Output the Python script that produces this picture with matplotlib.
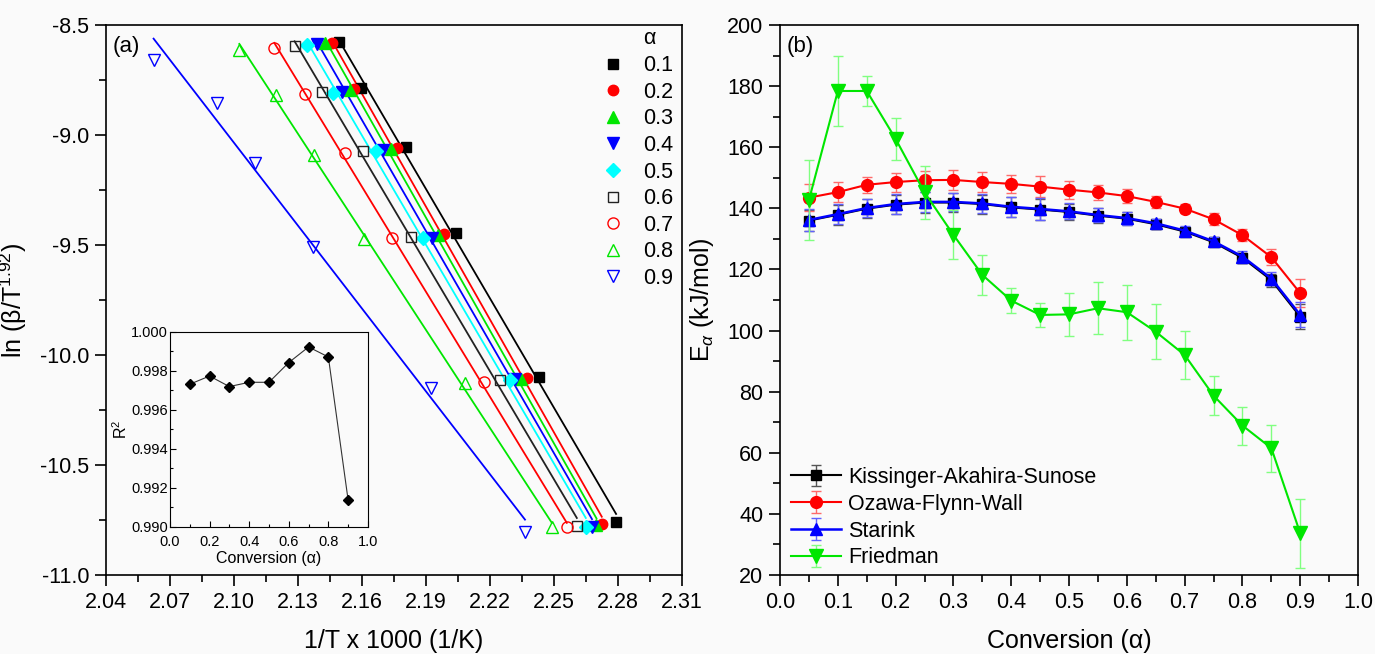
import numpy as np
import matplotlib
matplotlib.use("Agg")
import matplotlib.pyplot as plt
from matplotlib.ticker import MultipleLocator, FormatStrFormatter

plt.rcParams['font.family'] = ['Liberation Sans', 'DejaVu Sans']
plt.rcParams['mathtext.fontset'] = 'custom'
plt.rcParams['mathtext.rm'] = 'Liberation Sans'
plt.rcParams['mathtext.it'] = 'Liberation Sans:italic'
plt.rcParams['axes.unicode_minus'] = False

# ---- panel (a): iso-conversional plots, one row per conversion level ----
alphas = [0.1, 0.2, 0.3, 0.4, 0.5, 0.6, 0.7, 0.8, 0.9]
inv_T = [
    [2.1490, 2.1594, 2.1806, 2.2041, 2.2431, 2.2791],
    [2.1457, 2.1564, 2.1766, 2.1984, 2.2373, 2.2724],
    [2.1427, 2.1544, 2.1736, 2.1954, 2.2344, 2.2699],
    [2.1388, 2.1505, 2.1699, 2.1928, 2.2319, 2.2678],
    [2.1342, 2.1464, 2.1664, 2.1887, 2.2294, 2.2649],
    [2.1284, 2.1413, 2.1606, 2.1832, 2.2247, 2.2607],
    [2.1189, 2.1335, 2.1519, 2.1741, 2.2171, 2.2560],
    [2.1025, 2.1197, 2.1373, 2.1611, 2.2083, 2.2490],
    [2.0623, 2.0921, 2.1097, 2.1370, 2.1925, 2.2364],
]
ln_beta = [
    [-8.576, -8.788, -9.053, -9.444, -10.100, -10.761],
    [-8.580, -8.790, -9.060, -9.452, -10.105, -10.770],
    [-8.582, -8.795, -9.062, -9.455, -10.107, -10.774],
    [-8.588, -8.805, -9.069, -9.466, -10.110, -10.781],
    [-8.592, -8.807, -9.074, -9.466, -10.112, -10.781],
    [-8.594, -8.805, -9.073, -9.462, -10.114, -10.777],
    [-8.603, -8.812, -9.083, -9.468, -10.121, -10.782],
    [-8.614, -8.818, -9.091, -9.474, -10.129, -10.783],
    [-8.659, -8.856, -9.126, -9.508, -10.149, -10.803],
]

# inset: R^2 of the linear fits
r2_conv = [0.1, 0.2, 0.3, 0.4, 0.5, 0.6, 0.7, 0.8, 0.9]
r2_vals = [0.99732, 0.99774, 0.99720, 0.99742, 0.99742, 0.99843, 0.99923, 0.99872, 0.99137]

# ---- panel (b): activation energy vs conversion ----
conv = [0.05, 0.10, 0.15, 0.20, 0.25, 0.30, 0.35, 0.40, 0.45,
        0.50, 0.55, 0.60, 0.65, 0.70, 0.75, 0.80, 0.85, 0.90]
E_kas = [136.0, 137.9, 139.9, 141.2, 141.9, 141.9, 141.4, 140.3, 139.6,
         138.8, 137.6, 136.6, 134.8, 132.4, 128.9, 123.8, 116.5, 104.5]
E_kas_err = [3.5, 3.3, 3.1, 3.2, 3.3, 3.0, 3.1, 3.3, 3.5,
             2.6, 2.4, 2.1, 1.5, 1.5, 1.3, 1.7, 2.1, 4.1]
E_ofw = [143.5, 145.3, 147.7, 148.6, 149.2, 149.3, 148.6, 148.0, 147.1,
         146.1, 145.2, 144.0, 142.1, 139.9, 136.4, 131.2, 124.0, 112.2]
E_ofw_err = [4.5, 3.2, 2.6, 3.1, 3.0, 3.2, 3.4, 2.9, 3.4,
             2.9, 2.5, 2.4, 2.0, 1.4, 2.0, 1.9, 2.6, 4.6]
E_star = [136.2, 138.1, 140.1, 141.4, 142.1, 142.1, 141.6, 140.5, 139.8,
          139.0, 137.8, 136.8, 135.1, 132.7, 129.2, 124.2, 117.0, 105.1]
E_star_err = [3.5, 3.3, 3.1, 3.2, 3.3, 3.0, 3.1, 3.3, 3.5,
              2.6, 2.4, 2.1, 1.5, 1.5, 1.3, 1.7, 2.1, 4.1]
E_fr = [142.7, 178.4, 178.4, 162.7, 145.2, 131.3, 118.2, 109.8, 105.1,
        105.3, 107.3, 106.0, 99.6, 92.0, 78.7, 68.9, 61.5, 33.6]
E_fr_err = [13.2, 11.4, 5.0, 7.0, 8.7, 8.0, 6.5, 4.0, 4.0,
            7.0, 8.5, 9.0, 9.0, 8.0, 6.5, 6.2, 7.7, 11.4]

GREEN = '#00e600'
BG = '#fafafa'
TICK_FS = 15.5
LABEL_FS = 18

fig = plt.figure(figsize=(13.75, 6.54), dpi=100)
fig.patch.set_facecolor(BG)
ax_a = fig.add_axes([0.0771, 0.1208, 0.4189, 0.8410])
ax_b = fig.add_axes([0.5673, 0.1208, 0.4204, 0.8410])


def style_axes(ax):
    ax.set_facecolor(BG)
    for s in ax.spines.values():
        s.set_linewidth(1.2)
    ax.tick_params(which='both', direction='out', width=1.2, labelsize=TICK_FS, pad=4)
    ax.tick_params(which='major', length=8)
    ax.tick_params(which='minor', length=5)


# ---- panel (a) ----
style_axes(ax_a)
markers = ['s', 'o', '^', 'v', 'D', 's', 'o', '^', 'v']
colors = ['black', 'red', GREEN, 'blue', 'cyan', '#222222', 'red', GREEN, 'blue']
filled = [True, True, True, True, True, False, False, False, False]
sizes = [7.5, 7.5, 8, 8, 7, 7.5, 8, 9, 9]

for a, xs, ys, m, c, f, ms in zip(alphas, inv_T, ln_beta, markers, colors, filled, sizes):
    xs = np.array(xs)
    ys = np.array(ys)
    coef = np.polyfit(xs, ys, 1)
    xx = np.array([xs.min(), xs.max()])
    ax_a.plot(xx, np.polyval(coef, xx), color=c, lw=1.3, zorder=2)
    ax_a.plot(xs, ys, ls='none', marker=m, ms=ms, mec=c, mfc=c if f else 'none',
              mew=1.0, label=f'{a:.1f}', zorder=3)

ax_a.set_xlim(2.04, 2.31)
ax_a.set_ylim(-11.0, -8.5)
ax_a.set_xticks(np.round(np.arange(2.04, 2.3101, 0.03), 2))
ax_a.set_xticks(np.round(np.arange(2.055, 2.31, 0.03), 3), minor=True)
ax_a.xaxis.set_major_formatter(FormatStrFormatter('%.2f'))
ax_a.yaxis.set_major_locator(MultipleLocator(0.5))
ax_a.yaxis.set_minor_locator(MultipleLocator(0.25))
ax_a.yaxis.set_major_formatter(FormatStrFormatter('%.1f'))
ax_a.set_xlabel('1/T x 1000 (1/K)', fontsize=LABEL_FS, labelpad=12)
ax_a.set_ylabel('ln (β/T$^{1.92}$)', fontsize=LABEL_FS, labelpad=8)
ax_a.text(0.011, 0.96, '(a)', transform=ax_a.transAxes, fontsize=16, va='center', ha='left')

ax_a.legend(loc='upper right', bbox_to_anchor=(0.985, 0.945), frameon=False,
            fontsize=TICK_FS, handlelength=0.8, handletextpad=1.0,
            labelspacing=0.26, borderpad=0, borderaxespad=0)
ax_a.text(0.944, 0.975, 'α', transform=ax_a.transAxes, fontsize=TICK_FS,
          ha='center', va='center')

# inset
ax_in = fig.add_axes([0.1236, 0.1942, 0.1440, 0.2982])
ax_in.set_facecolor(BG)
for s in ax_in.spines.values():
    s.set_linewidth(0.8)
ax_in.plot(r2_conv, r2_vals, color='#333333', lw=0.8, marker='D', ms=5.5,
           mfc='black', mec='black')
ax_in.set_xlim(0.0, 1.0)
ax_in.set_ylim(0.990, 1.000)
ax_in.xaxis.set_major_locator(MultipleLocator(0.2))
ax_in.xaxis.set_minor_locator(MultipleLocator(0.1))
ax_in.yaxis.set_major_locator(MultipleLocator(0.002))
ax_in.yaxis.set_minor_locator(MultipleLocator(0.001))
ax_in.xaxis.set_major_formatter(FormatStrFormatter('%.1f'))
ax_in.yaxis.set_major_formatter(FormatStrFormatter('%.3f'))
ax_in.tick_params(which='both', direction='in', width=0.8, labelsize=10.5)
ax_in.tick_params(axis='x', pad=6)
ax_in.tick_params(axis='y', pad=1.5)
ax_in.tick_params(which='major', length=4)
ax_in.tick_params(which='minor', length=2.5)
ax_in.set_xlabel('Conversion (α)', fontsize=11.5, labelpad=1)
ax_in.set_ylabel('R$^2$', fontsize=11.5, labelpad=1)

# ---- panel (b) ----
style_axes(ax_b)
ax_b.errorbar(conv, E_kas, yerr=E_kas_err, color='black', marker='s', ms=7,
              lw=1.5, ecolor='#555555', elinewidth=1, capsize=3.5, capthick=1,
              label='Kissinger-Akahira-Sunose', zorder=2)
ax_b.errorbar(conv, E_ofw, yerr=E_ofw_err, color='red', marker='o', ms=8.5,
              lw=1.5, ecolor='#ff6a6a', elinewidth=1, capsize=3.5, capthick=1,
              label='Ozawa-Flynn-Wall', zorder=3)
ax_b.errorbar(conv, E_star, yerr=E_star_err, color='blue', marker='^', ms=9,
              lw=1.8, ecolor='#6060ff', elinewidth=1, capsize=3.5, capthick=1,
              label='Starink', zorder=4)
ax_b.errorbar(conv, E_fr, yerr=E_fr_err, color=GREEN, marker='v', ms=10,
              lw=1.5, ecolor='#80ff80', elinewidth=1, capsize=3.5, capthick=1,
              label='Friedman', zorder=5)

ax_b.set_xlim(0.0, 1.0)
ax_b.set_ylim(20, 200)
ax_b.xaxis.set_major_locator(MultipleLocator(0.1))
ax_b.xaxis.set_minor_locator(MultipleLocator(0.05))
ax_b.yaxis.set_major_locator(MultipleLocator(20))
ax_b.yaxis.set_minor_locator(MultipleLocator(10))
ax_b.xaxis.set_major_formatter(FormatStrFormatter('%.1f'))
ax_b.set_xlabel('Conversion (α)', fontsize=LABEL_FS, labelpad=12)
ax_b.set_ylabel('E$_{α}$ (kJ/mol)', fontsize=LABEL_FS, labelpad=8)
ax_b.text(0.012, 0.96, '(b)', transform=ax_b.transAxes, fontsize=16, va='center', ha='left')

ax_b.legend(loc='lower left', bbox_to_anchor=(0.019, 0.012), frameon=False,
            fontsize=TICK_FS, handlelength=2.3, handletextpad=0.35,
            labelspacing=0.27, borderpad=0, borderaxespad=0)

fig.savefig('out.png', dpi=100, facecolor=fig.get_facecolor())
